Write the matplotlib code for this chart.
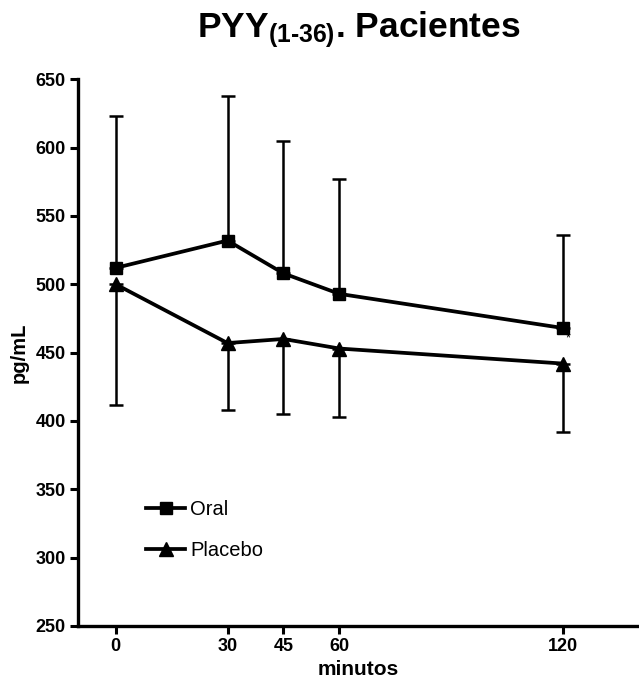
import numpy as np
import matplotlib
matplotlib.use("Agg")
import matplotlib.pyplot as plt

plt.rcParams['font.family'] = ['Liberation Sans', 'DejaVu Sans']
plt.rcParams['mathtext.fontset'] = 'custom'
plt.rcParams['mathtext.rm'] = 'Liberation Sans:bold'
plt.rcParams['mathtext.bf'] = 'Liberation Sans:bold'
plt.rcParams['mathtext.it'] = 'Liberation Sans:bold'

minutes = [0, 30, 45, 60, 120]
oral = [512, 532, 508, 493, 468]
oral_upper = [623, 638, 605, 577, 536]
placebo = [500, 457, 460, 453, 442]
placebo_lower = [412, 408, 405, 403, 392]
yticks = [250, 300, 350, 400, 450, 500, 550, 600, 650]
xticks = [0, 30, 45, 60, 120]

fig = plt.figure(figsize=(6.39, 6.84), dpi=100)
ax = fig.add_axes([0.1221, 0.0848, 0.878, 0.7993])

oral_a = np.array(oral, dtype=float)
plac_a = np.array(placebo, dtype=float)
oral_err = [np.zeros_like(oral_a), np.array(oral_upper) - oral_a]
plac_err = [plac_a - np.array(placebo_lower), np.zeros_like(plac_a)]

ax.errorbar(minutes, oral, yerr=oral_err, fmt='none', ecolor='black',
            elinewidth=1.8, capsize=5, capthick=1.8, zorder=2)
ax.errorbar(minutes, placebo, yerr=plac_err, fmt='none', ecolor='black',
            elinewidth=1.8, capsize=5, capthick=1.8, zorder=2)
ax.plot(minutes, oral, color='black', lw=2.7, marker='s', markersize=8.5,
        label='Oral', zorder=3)
ax.plot(minutes, placebo, color='black', lw=2.7, marker='^', markersize=9.5,
        label='Placebo', zorder=3)

ax.annotate('*', xy=(minutes[-1], oral[-1]), xytext=(3.5, -3.5),
            textcoords='offset points', fontsize=9, ha='center', va='top',
            zorder=6)

ax.set_xlim(-10.1, 140.4)
ax.set_ylim(250, 650)
ax.set_xticks(xticks)
ax.set_yticks(yticks)
for lbl in ax.get_xticklabels() + ax.get_yticklabels():
    lbl.set_fontweight('bold')
ax.tick_params(axis='both', direction='out', length=6, width=2.2,
               labelsize=13, pad=3)
for s in ['top', 'right']:
    ax.spines[s].set_visible(False)
for s in ['left', 'bottom']:
    ax.spines[s].set_linewidth(2.4)

ax.set_xlabel('minutos', fontsize=15, fontweight='bold', labelpad=3)
ax.set_ylabel('pg/mL', fontsize=14.5, fontweight='bold', labelpad=5)

leg = ax.legend(loc='upper left', bbox_to_anchor=(0.107, 0.245), frameon=False,
                fontsize=14.5, handlelength=1.95, handletextpad=0.25,
                labelspacing=1.1, borderaxespad=0)

fig.text(0.561, 0.946, r'PYY$_{\rm (1\text{-}36)}$. Pacientes', fontsize=25.5,
         fontweight='bold', ha='center', va='baseline')

fig.savefig('out.png', dpi=100)
